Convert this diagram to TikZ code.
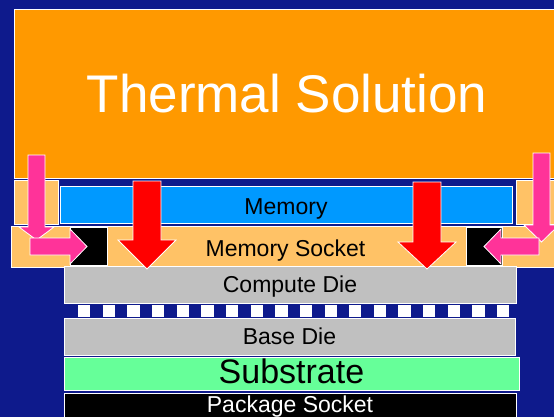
\documentclass[tikz,border=0pt]{standalone}
\usepackage{fontspec}
\setmainfont{Liberation Sans}
\definecolor{bgblue}{RGB}{14,26,140}
\definecolor{thermorange}{RGB}{255,153,0}
\definecolor{sockorange}{RGB}{255,194,102}
\definecolor{memblue}{RGB}{0,153,255}
\definecolor{diegray}{RGB}{192,192,192}
\definecolor{subgreen}{RGB}{102,255,153}
\definecolor{flowpink}{RGB}{255,51,153}
\definecolor{flowred}{RGB}{255,0,0}
\usetikzlibrary{positioning}

\begin{document}
\begin{tikzpicture}[x=1pt,y=-1pt,
  layer/.style={draw=white,line width=0.8pt,inner sep=0pt,text depth=0pt,text height=19pt,font=\fontsize{23}{27}\selectfont},
  flow/.style={draw=white,line width=0.8pt}]
  \clip (0,0) rectangle (554,417);
  \fill[bgblue] (0,0) rectangle (554,417);
  % cooler and memory level
  \node[layer,fill=thermorange,text=white,minimum width=546pt,minimum height=169pt,text height=39pt,font=\fontsize{53}{60}\selectfont] (thermal) at (287,93.5) {Thermal Solution};
  \node[layer,fill=sockorange,minimum width=44pt,minimum height=44pt] (padl) at (36,202) {};
  \node[layer,fill=sockorange,minimum width=44pt,minimum height=44pt] (padr) at (538,202) {};
  \node[layer,fill=memblue,minimum width=452pt,minimum height=37pt] (memory) at (286,204.5) {Memory};
  \node[layer,fill=sockorange,minimum width=549pt,minimum height=41pt] (socket) at (285.5,246.5) {Memory Socket};
  \node[layer,fill=black,minimum width=37pt,minimum height=38pt] (stopl) at (88.5,246) {};
  \node[layer,fill=black,minimum width=36pt,minimum height=38pt] (stopr) at (484,246) {};
  % package stack
  \node[layer,fill=diegray,minimum width=452pt,minimum height=37pt,text height=16pt] (compute) at (290,284.5) {Compute Die};
  \coordinate (bumpl) at (78,311);
  \coordinate (bumpr) at (510,311);
  \draw[white,line width=12pt,dash pattern=on 12.3pt off 12.35pt] (bumpl) -- (bumpr);
  \node[layer,fill=diegray,minimum width=451pt,minimum height=37pt,text height=15pt] (base) at (289.5,336.5) {Base Die};
  \node[layer,fill=subgreen,minimum width=455pt,minimum height=33pt,font=\fontsize{34}{40}\selectfont] (substrate) at (291.5,373.5) {Substrate};
  \node[layer,fill=black,text=white,minimum width=452pt,minimum height=27pt,text height=11pt] (pkgsocket) at (290,406.5) {Package Socket};
  % heat flow
  \filldraw[flow,fill=flowred] (133,181) -- (161,181) -- (161,240) -- (176,240) -- (147,269) -- (118,240) -- (133,240) -- cycle;
  \filldraw[flow,fill=flowred] (413,182) -- (441,182) -- (441,242) -- (456,242) -- (427,269) -- (398,242) -- (413,242) -- cycle;
  \filldraw[flow,fill=flowpink] (28,155) -- (45,155) -- (45,227) -- (54,227) -- (36.5,240) -- (19,227) -- (28,227) -- cycle;
  \filldraw[flow,fill=flowpink] (30,238) -- (70,238) -- (70,229) -- (87,246.5) -- (70,264) -- (70,255) -- (30,255) -- cycle;
  \filldraw[flow,fill=flowpink] (533,153) -- (550,153) -- (550,225) -- (559,225) -- (541.5,242) -- (524,225) -- (533,225) -- cycle;
  \filldraw[flow,fill=flowpink] (539,238) -- (501,238) -- (501,229) -- (484,246.5) -- (501,264) -- (501,255) -- (539,255) -- cycle;
\end{tikzpicture}
\end{document}
